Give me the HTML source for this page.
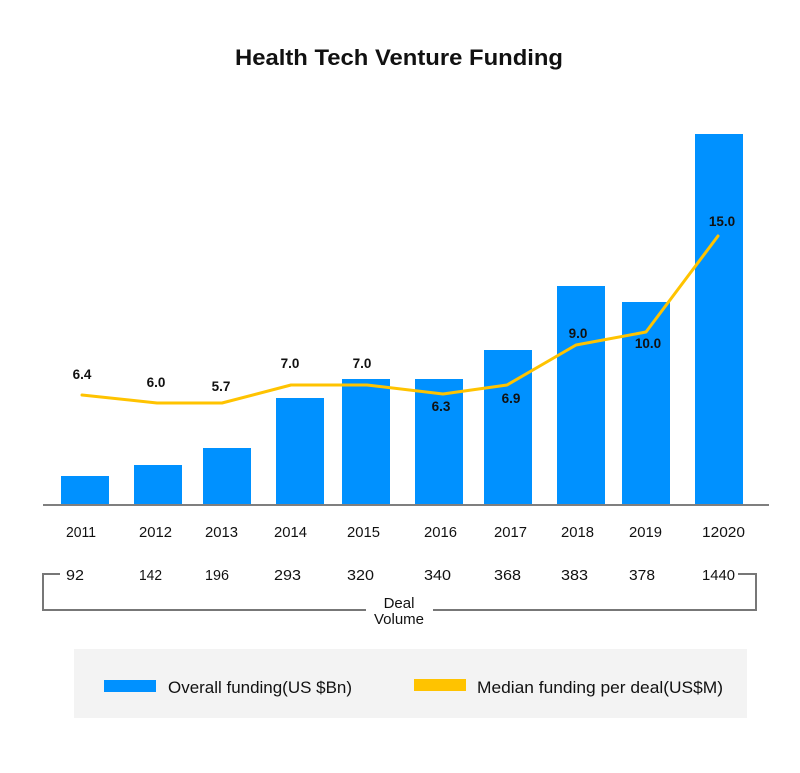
<!DOCTYPE html>
<html><head><meta charset="utf-8"><style>
html,body{margin:0;padding:0;background:#fff;}
svg{display:block;}
text{font-family:"Liberation Sans",Arial,sans-serif;fill:#111;}
</style></head><body>
<svg width="800" height="773" viewBox="0 0 800 773" xmlns="http://www.w3.org/2000/svg">
<rect width="800" height="773" fill="#fff"/>
<text x="399" y="65" text-anchor="middle" font-size="22" font-weight="bold" textLength="328" lengthAdjust="spacingAndGlyphs">Health Tech Venture Funding</text>
<g fill="#0091FF">
<rect x="61" y="476" width="48" height="29"/>
<rect x="134" y="465" width="48" height="40"/>
<rect x="203" y="448" width="48" height="57"/>
<rect x="276" y="398" width="48" height="107"/>
<rect x="342" y="379" width="48" height="126"/>
<rect x="415" y="379" width="48" height="126"/>
<rect x="484" y="350" width="48" height="155"/>
<rect x="557" y="286" width="48" height="219"/>
<rect x="622" y="302" width="48" height="203"/>
<rect x="695" y="134" width="48" height="371"/>
</g>
<line x1="43" y1="505" x2="769" y2="505" stroke="#7f7f7f" stroke-width="2"/>
<polyline fill="none" stroke="#FFC300" stroke-width="3" stroke-linejoin="round" stroke-linecap="round" points="82,395 157,403 222,403 291,385 367,385 443,394 507,385 576,345 646,332 718,236"/>
<g font-size="13.5" font-weight="bold" text-anchor="middle">
<text x="82" y="379">6.4</text>
<text x="156" y="387">6.0</text>
<text x="221" y="391">5.7</text>
<text x="290" y="368">7.0</text>
<text x="362" y="368">7.0</text>
<text x="441" y="411">6.3</text>
<text x="511" y="403">6.9</text>
<text x="578" y="338">9.0</text>
<text x="648" y="348">10.0</text>
<text x="722" y="226">15.0</text>
</g>
<g font-size="14.5">
<text x="66" y="537" textLength="30" lengthAdjust="spacingAndGlyphs">2011</text>
<text x="139" y="537" textLength="33" lengthAdjust="spacingAndGlyphs">2012</text>
<text x="205" y="537" textLength="33" lengthAdjust="spacingAndGlyphs">2013</text>
<text x="274" y="537" textLength="33" lengthAdjust="spacingAndGlyphs">2014</text>
<text x="347" y="537" textLength="33" lengthAdjust="spacingAndGlyphs">2015</text>
<text x="424" y="537" textLength="33" lengthAdjust="spacingAndGlyphs">2016</text>
<text x="494" y="537" textLength="33" lengthAdjust="spacingAndGlyphs">2017</text>
<text x="561" y="537" textLength="33" lengthAdjust="spacingAndGlyphs">2018</text>
<text x="629" y="537" textLength="33" lengthAdjust="spacingAndGlyphs">2019</text>
<text x="702" y="537" textLength="43" lengthAdjust="spacingAndGlyphs">12020</text>
<text x="66" y="580" textLength="18" lengthAdjust="spacingAndGlyphs">92</text>
<text x="139" y="580" textLength="23" lengthAdjust="spacingAndGlyphs">142</text>
<text x="205" y="580" textLength="24" lengthAdjust="spacingAndGlyphs">196</text>
<text x="274" y="580" textLength="27" lengthAdjust="spacingAndGlyphs">293</text>
<text x="347" y="580" textLength="27" lengthAdjust="spacingAndGlyphs">320</text>
<text x="424" y="580" textLength="27" lengthAdjust="spacingAndGlyphs">340</text>
<text x="494" y="580" textLength="27" lengthAdjust="spacingAndGlyphs">368</text>
<text x="561" y="580" textLength="27" lengthAdjust="spacingAndGlyphs">383</text>
<text x="629" y="580" textLength="26" lengthAdjust="spacingAndGlyphs">378</text>
<text x="702" y="580" textLength="33" lengthAdjust="spacingAndGlyphs">1440</text>
</g>
<polyline fill="none" stroke="#777" stroke-width="2" points="60,574 43,574 43,610 366,610"/>
<polyline fill="none" stroke="#777" stroke-width="2" points="738,574 756,574 756,610 433,610"/>
<g font-size="15" text-anchor="middle">
<text x="399" y="608">Deal</text>
<text x="399" y="624">Volume</text>
</g>
<rect x="74" y="649" width="673" height="69" fill="#F3F3F3"/>
<rect x="104" y="680" width="52" height="12" fill="#0091FF"/>
<text x="168" y="693" font-size="17" textLength="184" lengthAdjust="spacingAndGlyphs">Overall funding(US $Bn)</text>
<rect x="414" y="679" width="52" height="12" fill="#FFC300"/>
<text x="477" y="693" font-size="17" textLength="246" lengthAdjust="spacingAndGlyphs">Median funding per deal(US$M)</text>
</svg>
</body></html>
